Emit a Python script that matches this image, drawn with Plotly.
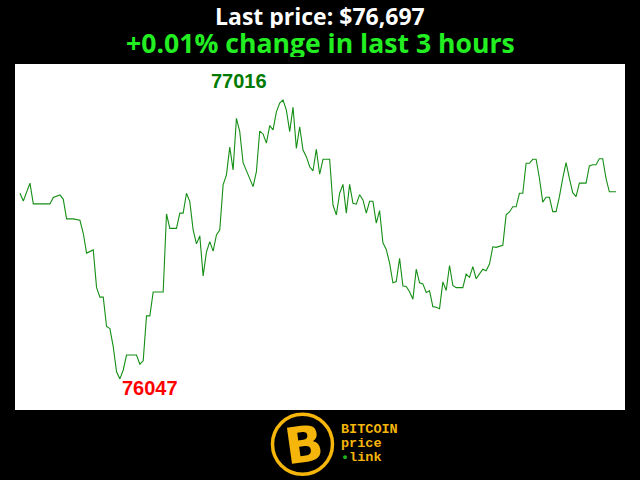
import plotly.graph_objects as go

# minute index within the last 3 hours, and BTC price (USD)
minutes = [0, 1, 3, 4, 9, 10, 12, 13, 14, 16, 18, 19, 20, 22, 23, 24, 25, 26, 27, 28,
           29, 30, 31, 32, 35, 36, 37, 38, 39, 40, 43, 44, 45, 47, 48, 49, 50, 51, 52, 53,
           54, 55, 56, 57, 58, 59, 60, 61, 62, 63, 64, 65, 66, 67, 70, 71, 72, 73, 74, 75,
           76, 77, 78, 79, 80, 81, 82, 83, 84, 85, 86, 87, 88, 89, 90, 91, 93, 94, 95, 96,
           97, 98, 99, 100, 101, 102, 103, 104, 105, 106, 107, 108, 109, 110, 111, 112, 113, 114, 115, 116,
           117, 118, 119, 120, 121, 122, 123, 124, 125, 126, 127, 128, 129, 130, 131, 133, 134, 135, 136, 137,
           138, 139, 140, 141, 142, 143, 145, 146, 147, 148, 149, 150, 151, 152, 153, 154, 155, 156, 157, 158,
           159, 160, 161, 162, 163, 164, 165, 166, 167, 168, 170, 171, 172, 173, 174, 175, 176, 177, 179]
prices = [76692, 76665, 76727, 76655, 76655, 76677, 76686, 76671, 76603, 76603,
          76598, 76553, 76484, 76495, 76364, 76331, 76331, 76229, 76222, 76159,
          76072, 76047, 76078, 76130, 76130, 76098, 76110, 76266, 76266, 76349,
          76349, 76620, 76570, 76570, 76623, 76623, 76692, 76663, 76565, 76516,
          76544, 76405, 76488, 76524, 76491, 76547, 76565, 76721, 76756, 76852,
          76773, 76952, 76906, 76798, 76715, 76767, 76908, 76898, 76866, 76927,
          76912, 76975, 77005, 77016, 76981, 76906, 76991, 76848, 76923, 76842,
          76819, 76784, 76770, 76845, 76758, 76810, 76810, 76651, 76617, 76692,
          76723, 76623, 76723, 76657, 76654, 76687, 76669, 76623, 76664, 76664,
          76588, 76632, 76520, 76497, 76449, 76381, 76385, 76466, 76370, 76368,
          76350, 76324, 76428, 76381, 76377, 76347, 76353, 76298, 76296, 76291,
          76384, 76354, 76441, 76372, 76364, 76364, 76411, 76400, 76437, 76395,
          76412, 76428, 76423, 76446, 76506, 76504, 76511, 76617, 76627, 76645,
          76645, 76692, 76692, 76796, 76796, 76810, 76810, 76744, 76661, 76678,
          76678, 76628, 76628, 76680, 76744, 76798, 76744, 76694, 76680, 76727,
          76727, 76787, 76791, 76791, 76812, 76812, 76744, 76697, 76697]

last_price_text = "Last price: $76,697"
change_text = "+0.01% change in last 3 hours"
logo_lines = ["BITCOIN", "price", "link"]

hi = max(prices)
lo = min(prices)
i_hi = minutes[prices.index(hi)]
i_lo = minutes[prices.index(lo)]

fig = go.Figure()
fig.add_trace(go.Scatter(x=minutes, y=prices, mode="lines",
                         line=dict(color="#158f15", width=1.1), hoverinfo="skip"))

gold = "#f5b50a"


def px_x(p):
    return (p - 15) / 610


def px_y(p):
    return (410 - p) / 346


annotations = [
    dict(text=last_price_text, xref="paper", yref="paper", x=0.5, y=px_y(15.5),
         xanchor="center", yanchor="middle", showarrow=False, height=25, borderpad=0,
         font=dict(family="Open Sans", size=23, color="white", weight="bold")),
    dict(text=change_text, xref="paper", yref="paper", x=0.5, y=px_y(42.5),
         xanchor="center", yanchor="middle", showarrow=False, height=29, borderpad=0,
         font=dict(family="Open Sans", size=26.6, color="#22ee22", weight="bold")),
    dict(text=str(hi), x=i_hi, y=hi, xanchor="right", yanchor="bottom",
         xshift=-14, yshift=6, showarrow=False,
         font=dict(family="Liberation Sans", size=20, color="#007a00", weight="bold")),
    dict(text=str(lo), x=i_lo, y=lo, xanchor="left", yanchor="top",
         xshift=0, yshift=4, showarrow=False,
         font=dict(family="Liberation Sans", size=20, color="#ff0000", weight="bold")),
    # logo
    dict(text="B", xref="paper", yref="paper", x=px_x(304), y=px_y(445),
         xanchor="center", yanchor="middle", showarrow=False, textangle=-8,
         font=dict(family="DejaVu Sans", size=50, color=gold, weight="bold")),
    dict(text=logo_lines[0], xref="paper", yref="paper", x=px_x(339), y=px_y(429),
         xanchor="left", yanchor="middle", showarrow=False,
         font=dict(family="Liberation Mono", size=13.5, color=gold, weight="bold")),
    dict(text=logo_lines[1], xref="paper", yref="paper", x=px_x(339), y=px_y(443),
         xanchor="left", yanchor="middle", showarrow=False,
         font=dict(family="Liberation Mono", size=13.5, color=gold, weight="bold")),
    dict(text='<span style="color:#1db31d">•</span>' + logo_lines[2], xref="paper", yref="paper",
         x=px_x(339), y=px_y(457),
         xanchor="left", yanchor="middle", showarrow=False,
         font=dict(family="Liberation Mono", size=13.5, color=gold, weight="bold")),
]

shapes = [
    dict(type="circle", xref="paper", yref="paper",
         x0=px_x(272.5), x1=px_x(332.5),
         y0=px_y(474.3), y1=px_y(414.3),
         line=dict(color=gold, width=3.5), fillcolor="black"),
]

fig.update_layout(
    width=640, height=480,
    margin=dict(l=15, r=15, t=64, b=70),
    paper_bgcolor="black", plot_bgcolor="white",
    showlegend=False,
    xaxis=dict(visible=False, range=[-1.5, 181.7], fixedrange=True),
    yaxis=dict(visible=False, range=[75939, 77141], fixedrange=True),
    annotations=annotations,
    shapes=shapes,
)

fig.write_html("out.html", config={"displayModeBar": False},
               post_script="document.body.style.margin='0';")
